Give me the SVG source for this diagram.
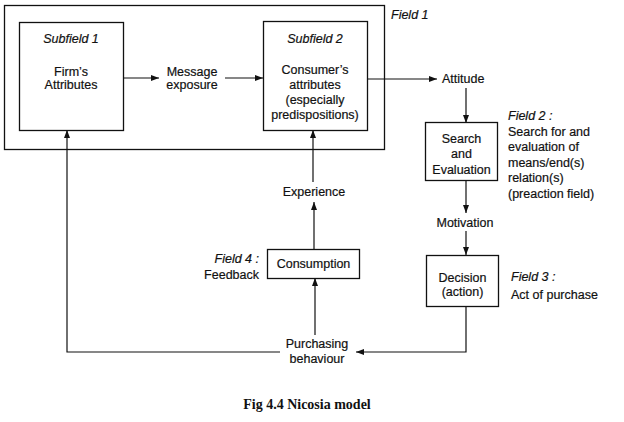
<svg xmlns="http://www.w3.org/2000/svg" width="624" height="422" viewBox="0 0 624 422">
<defs>
<marker id="ah" viewBox="0 0 8 6" refX="8" refY="3" markerWidth="8" markerHeight="6" orient="auto" markerUnits="userSpaceOnUse">
<path d="M0,0 L8,3 L0,6 Z" fill="#111"/>
</marker>
</defs>
<style>
text{font-family:"Liberation Sans",Arial,sans-serif;font-size:12.5px;fill:#111;stroke:#111;stroke-width:0.2}
.c{text-anchor:middle}
.i{font-style:italic}
.r{text-anchor:end}
.box{fill:#fff;stroke:#111;stroke-width:1.3}
.ln{fill:none;stroke:#111;stroke-width:1.2}
.cap{font-family:"Liberation Serif","Times New Roman",serif;font-weight:bold;font-size:14px;stroke-width:0}
</style>
<rect width="624" height="422" fill="#fff"/>
<g id="field1">
<rect class="box" x="4.5" y="5.5" width="380" height="144"/>
<text class="i" x="391" y="19">Field 1</text>
</g>
<g id="connectors">
<path class="ln" d="M123 78 L159 78" marker-end="url(#ah)"/>
<path class="ln" d="M225 78 L263 78" marker-end="url(#ah)"/>
<path class="ln" d="M367 79 L437 79" marker-end="url(#ah)"/>
<path class="ln" d="M466 88 L466 123" marker-end="url(#ah)"/>
<path class="ln" d="M466 181 L466 213" marker-end="url(#ah)"/>
<path class="ln" d="M466 231 L466 255" marker-end="url(#ah)"/>
<path class="ln" d="M466 306 L466 352 L356 352" marker-end="url(#ah)"/>
<path class="ln" d="M280 352 L67 352 L67 130" marker-end="url(#ah)"/>
<path class="ln" d="M315 335 L315 278" marker-end="url(#ah)"/>
<path class="ln" d="M314 249 L314 202" marker-end="url(#ah)"/>
<path class="ln" d="M313 182 L313 130" marker-end="url(#ah)"/>
</g>
<g id="subfield1">
<rect class="box" x="19.5" y="22.5" width="104" height="108"/>
<text class="c i" x="71" y="43">Subfield 1</text>
<text class="c" x="71" y="76">Firm’s</text>
<text class="c" x="71" y="89">Attributes</text>
</g>
<g id="message">
<text class="c" x="192" y="76">Message</text>
<text class="c" x="192" y="89">exposure</text>
</g>
<g id="subfield2">
<rect class="box" x="263.5" y="21.5" width="104" height="109"/>
<text class="c i" x="315" y="43">Subfield 2</text>
<text class="c" x="315" y="74">Consumer’s</text>
<text class="c" x="315" y="89">attributes</text>
<text class="c" x="315" y="104">(especially</text>
<text class="c" x="315" y="119">predispositions)</text>
</g>
<g id="attitude">
<text x="442" y="83">Attitude</text>
</g>
<g id="search">
<rect class="box" x="425.5" y="122.5" width="72" height="58"/>
<text class="c" x="461.5" y="143">Search</text>
<text class="c" x="461.5" y="158">and</text>
<text class="c" x="461.5" y="174">Evaluation</text>
</g>
<g id="field2">
<text class="i" x="508" y="120">Field 2 :</text>
<text x="508" y="136">Search for and</text>
<text x="508" y="151">evaluation of</text>
<text x="508" y="167">means/end(s)</text>
<text x="508" y="182">relation(s)</text>
<text x="508" y="198">(preaction field)</text>
</g>
<g id="motivation">
<text class="c" x="465" y="227">Motivation</text>
</g>
<g id="decision">
<rect class="box" x="426.5" y="255.5" width="72" height="51"/>
<text class="c" x="462.5" y="282">Decision</text>
<text class="c" x="462.5" y="296">(action)</text>
</g>
<g id="field3">
<text class="i" x="511" y="281">Field 3 :</text>
<text x="511" y="299">Act of purchase</text>
</g>
<g id="experience">
<text class="c" x="314" y="196">Experience</text>
</g>
<g id="consumption">
<rect class="box" x="267.5" y="249.5" width="92" height="29"/>
<text class="c" x="313.5" y="268">Consumption</text>
</g>
<g id="field4">
<text class="r i" x="259" y="263">Field 4 :</text>
<text class="r" x="259" y="279">Feedback</text>
</g>
<g id="purchasing">
<text class="c" x="317" y="348">Purchasing</text>
<text class="c" x="317" y="363">behaviour</text>
</g>
<g id="caption">
<text class="c cap" x="307" y="409">Fig 4.4  Nicosia model</text>
</g>
</svg>
